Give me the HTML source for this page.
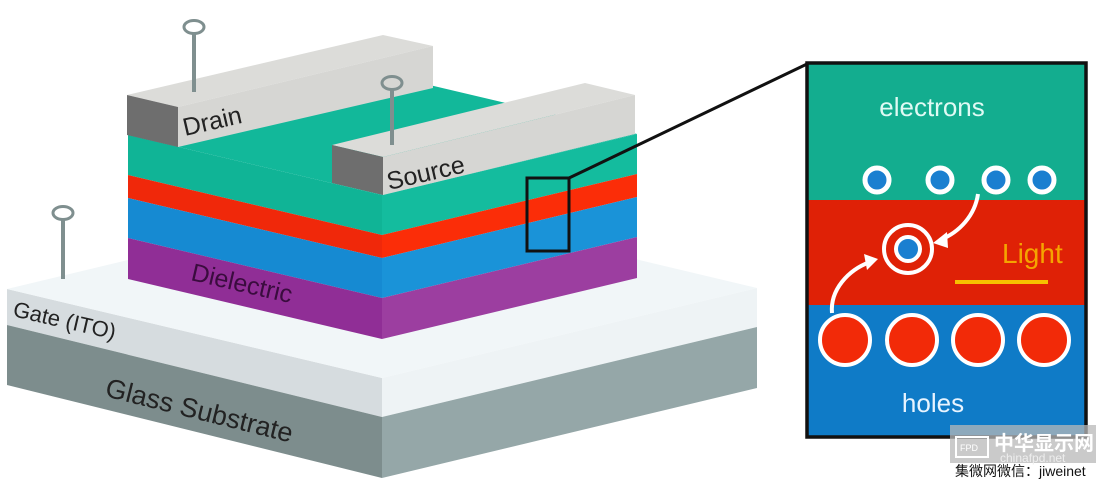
<!DOCTYPE html>
<html><head><meta charset="utf-8"><style>
html,body{margin:0;padding:0;background:#fff;}
svg{display:block;}
text{font-family:"Liberation Sans","Noto Sans CJK SC",sans-serif;}
</style></head><body>
<svg width="1101" height="485" viewBox="0 0 1101 485" xmlns="http://www.w3.org/2000/svg">
<polygon points="7,289 382,378 382,417 7,325" fill="#d6dcdf"/>
<polygon points="7,325 382,417 382,478 7,385" fill="#7d8d8d"/>
<polygon points="382,378 757,288 757,327 382,417" fill="#eef3f5"/>
<polygon points="382,417 757,327 757,388 382,478" fill="#95a7a8"/>
<polygon points="7,289 382,199 757,288 382,378" fill="#f1f6f8"/>
<line x1="63" y1="219" x2="63" y2="279" stroke="#7f8f8f" stroke-width="4"/>
<ellipse cx="63" cy="213" rx="10" ry="6.5" fill="none" stroke="#7f8f8f" stroke-width="3"/>
<polygon points="128,135 382,195 382,235 128,175" fill="#10b496"/>
<polygon points="128,175 382,235 382,258 128,198" fill="#f0280a"/>
<polygon points="128,198 382,258 382,298 128,238" fill="#168ad2"/>
<polygon points="128,238 382,298 382,339 128,279" fill="#902e96"/>
<polygon points="382,195 637,134 637,174 382,235" fill="#14bc9e"/>
<polygon points="382,235 637,174 637,197 382,258" fill="#fb2d08"/>
<polygon points="382,258 637,197 637,237 382,298" fill="#1a93d8"/>
<polygon points="382,298 637,237 637,278 382,339" fill="#9c3ea0"/>
<polygon points="128,135 383,74 637,134 382,195" fill="#12b89a"/>
<polygon points="127,95 383,35 433,46 178,107" fill="#dcdcd9"/>
<polygon points="178,107 433,46 433,88 178,147" fill="#d6d6d3"/>
<polygon points="127,95 178,107 178,147 127,135" fill="#6e6e6e"/>
<polygon points="332,145 585,83 635,95 383,157" fill="#dcdcd9"/>
<polygon points="383,157 635,95 635,134 383,195" fill="#d6d6d3"/>
<polygon points="332,145 383,157 383,195 332,183" fill="#6e6e6e"/>
<line x1="194" y1="33" x2="194" y2="92" stroke="#7f8f8f" stroke-width="4"/>
<ellipse cx="194" cy="27" rx="10" ry="6.5" fill="none" stroke="#7f8f8f" stroke-width="3"/>
<line x1="392" y1="89" x2="392" y2="145" stroke="#7f8f8f" stroke-width="4"/>
<ellipse cx="392" cy="83" rx="10" ry="6.5" fill="none" stroke="#7f8f8f" stroke-width="3"/>
<text x="185" y="136" font-size="25" fill="#222" transform="rotate(-13 185 136)">Drain</text>
<text x="389" y="190" font-size="25" fill="#222" transform="rotate(-13 389 190)">Source</text>
<text x="190" y="280" font-size="25" fill="#3a0c3e" transform="rotate(13 190 280)">Dielectric</text>
<text x="12" y="316" font-size="22" fill="#222" transform="rotate(13 12 316)">Gate (ITO)</text>
<text x="104" y="396" font-size="27" fill="#222" transform="rotate(14 104 396)">Glass Substrate</text>
<rect x="527" y="178" width="42" height="73" fill="none" stroke="#111" stroke-width="3"/>
<polyline points="569,178 590,168 807,64" fill="none" stroke="#111" stroke-width="3"/>
<rect x="807" y="63" width="279" height="137" fill="#13ad8f"/>
<rect x="807" y="200" width="279" height="105" fill="#df2106"/>
<rect x="807" y="305" width="279" height="132" fill="#0f7bc7"/>
<rect x="807" y="63" width="279" height="374" fill="none" stroke="#111" stroke-width="3.5"/>
<text x="932" y="116" font-size="26" fill="#dffaf4" text-anchor="middle">electrons</text>
<g fill="#1a7fd0" stroke="#fff" stroke-width="5">
<circle cx="877" cy="180" r="12"/><circle cx="940" cy="180" r="12"/><circle cx="996" cy="180" r="12"/><circle cx="1042" cy="180" r="12"/>
</g>
<circle cx="908" cy="249" r="24" fill="none" stroke="#fff" stroke-width="4"/>
<circle cx="908" cy="249" r="12" fill="#1a7fd0" stroke="#fff" stroke-width="4"/>
<text x="1002" y="263" font-size="28" fill="#f5a400">Light</text>
<line x1="955" y1="282" x2="1048" y2="282" stroke="#f7c000" stroke-width="4"/>
<g fill="#f22a08" stroke="#fff" stroke-width="4">
<circle cx="845" cy="340" r="25"/><circle cx="912" cy="340" r="25"/><circle cx="978" cy="340" r="25"/><circle cx="1044" cy="340" r="25"/>
</g>
<path d="M978,194 C975,215 960,232 940,240" fill="none" stroke="#fff" stroke-width="4"/>
<polygon points="933,243 947,232 948,248" fill="#fff"/>
<path d="M832,313 C830,290 848,270 870,262" fill="none" stroke="#fff" stroke-width="4"/>
<polygon points="878,259 864,254 867,270" fill="#fff"/>
<text x="933" y="412" font-size="26" fill="#e8f4ff" text-anchor="middle">holes</text>
<rect x="950" y="425" width="146" height="38" fill="#b8b8b8" opacity="0.75"/>
<rect x="956" y="437" width="32" height="20" fill="none" stroke="#fff" stroke-width="2"/>
<text x="960" y="451" font-size="9" fill="#fff">FPD</text>
<text x="994" y="450" font-size="20" fill="#fff" font-weight="bold">中华显示网</text>
<text x="1000" y="462" font-size="12" fill="#eee">chinafpd.net</text>
<text x="955" y="476" font-size="14" fill="#111">集微网微信：jiweinet</text>
</svg>
</body></html>
